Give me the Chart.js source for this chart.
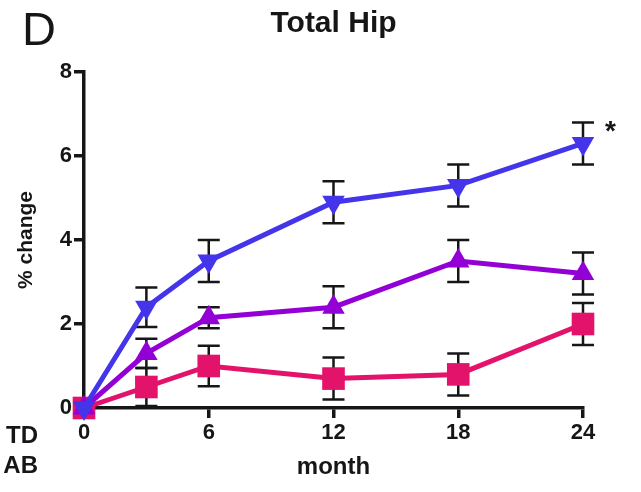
<!DOCTYPE html>
<html>
<head>
<meta charset="utf-8">
<script src="https://cdn.jsdelivr.net/npm/chart.js@4/dist/chart.umd.min.js"></script>
<style>
  html, body { margin: 0; padding: 0; background: #fff; }
  #c { display: block; }
</style>
</head>
<body>
<canvas id="c" width="641" height="492"></canvas>
<script>
// Total hip BMD, % change from baseline (mean ± SEM)
const months = [0, 3, 6, 12, 18, 24];
const xTicks = [0, 6, 12, 18, 24];
const yTicks = [0, 2, 4, 6, 8];

const blueMean   = [0, 2.4, 3.5, 4.9, 5.3, 6.3];
const blueErr    = [0, 0.47, 0.5, 0.5, 0.5, 0.5];
const purpleMean = [0, 1.3, 2.15, 2.4, 3.5, 3.2];
const purpleErr  = [0, 0.35, 0.25, 0.5, 0.5, 0.5];
const pinkMean   = [0, 0.5, 1.0, 0.7, 0.8, 2.0];
const pinkErr    = [0, 0.45, 0.48, 0.5, 0.5, 0.5];

const legendNames = ['TD', 'AB'];
const panelLetter = 'D';
const chartTitle = 'Total Hip';
const sigMark = '*';

const BLUE = '#4434ea';
const PURPLE = '#9300d6';
const PINK = '#e3136c';
const INK = '#161616';
const FONT = '"Liberation Sans", Arial, sans-serif';

function pts(mean) {
  return months.map((m, i) => ({ x: m, y: mean[i] }));
}

function series(label, mean, err, color, style, rotation, radius) {
  return {
    label, data: pts(mean), errors: err,
    borderColor: color, backgroundColor: color,
    borderWidth: 5, showLine: true, tension: 0,
    pointStyle: style, rotation, pointRadius: radius,
    pointHoverRadius: radius, pointBorderWidth: 0,
    clip: false
  };
}

// Vertical error bars with caps, drawn beneath the markers
const errorBars = {
  id: 'errorBars',
  beforeDatasetsDraw(chart) {
    const { ctx, scales: { x, y } } = chart;
    ctx.save();
    ctx.strokeStyle = INK;
    ctx.lineWidth = 2.5;
    chart.data.datasets.forEach(ds => {
      ds.data.forEach((p, i) => {
        const e = ds.errors[i];
        if (!e) return;
        const px = x.getPixelForValue(p.x);
        const top = y.getPixelForValue(p.y + e);
        const bot = y.getPixelForValue(p.y - e);
        const half = 11;
        ctx.beginPath();
        ctx.moveTo(px, top); ctx.lineTo(px, bot);
        ctx.moveTo(px - half, top); ctx.lineTo(px + half, top);
        ctx.moveTo(px - half, bot); ctx.lineTo(px + half, bot);
        ctx.stroke();
      });
    });
    ctx.restore();
  }
};

// Panel letter, title, significance mark and group names
const annotations = {
  id: 'annotations',
  afterDraw(chart) {
    const { ctx, chartArea, scales: { x, y } } = chart;
    ctx.save();
    ctx.fillStyle = INK;
    ctx.textBaseline = 'middle';

    ctx.textAlign = 'left';
    ctx.font = '47px ' + FONT;
    ctx.fillText(panelLetter, 22, 32);

    ctx.textAlign = 'center';
    ctx.font = 'bold 30px ' + FONT;
    ctx.fillText(chartTitle, (chartArea.left + chartArea.right) / 2, 24);

    const last = blueMean.length - 1;
    ctx.textAlign = 'left';
    ctx.font = 'bold 28px ' + FONT;
    ctx.fillText(sigMark, x.getPixelForValue(months[last]) + 22,
                 y.getPixelForValue(blueMean[last] + blueErr[last]) + 10);

    ctx.textAlign = 'right';
    ctx.font = 'bold 24px ' + FONT;
    legendNames.forEach((n, i) => ctx.fillText(n, 38, 436 + i * 30));
    ctx.restore();
  }
};

new Chart(document.getElementById('c'), {
  type: 'scatter',
  data: {
    datasets: [
      series('blue', blueMean, blueErr, BLUE, 'triangle', 180, 13),
      series('purple', purpleMean, purpleErr, PURPLE, 'triangle', 0, 13),
      series('pink', pinkMean, pinkErr, PINK, 'rect', 0, 16)
    ]
  },
  options: {
    responsive: false,
    animation: false,
    layout: { padding: { top: 72, right: 58, left: 0, bottom: 0 } },
    plugins: { legend: { display: false }, tooltip: { enabled: false }, title: { display: false } },
    scales: {
      x: {
        type: 'linear', min: 0, max: 24,
        afterBuildTicks: s => { s.ticks = xTicks.map(v => ({ value: v })); },
        afterFit: s => { s.height = 84; },
        ticks: { color: INK, font: { family: FONT, size: 22, weight: 'bold' }, padding: 2, autoSkip: false, maxRotation: 0 },
        grid: { drawOnChartArea: false, drawTicks: true, tickLength: 10, lineWidth: 3.5, color: INK },
        border: { display: true, width: 3.5, color: INK },
        title: { display: true, text: 'month', color: INK, font: { family: FONT, size: 24, weight: 'bold' }, padding: { top: 0, bottom: 10 } }
      },
      y: {
        min: 0, max: 8,
        afterBuildTicks: s => { s.ticks = yTicks.map(v => ({ value: v })); },
        afterFit: s => { s.width = 84; },
        ticks: { color: INK, font: { family: FONT, size: 22, weight: 'bold' }, padding: 2 },
        grid: { drawOnChartArea: false, drawTicks: true, tickLength: 10, lineWidth: 3.5, color: INK },
        border: { display: true, width: 3.5, color: INK },
        title: { display: true, text: '% change', color: INK, font: { family: FONT, size: 21, weight: 'bold' }, padding: { top: 14, bottom: 0 } }
      }
    }
  },
  plugins: [errorBars, annotations]
});
</script>
</body>
</html>
